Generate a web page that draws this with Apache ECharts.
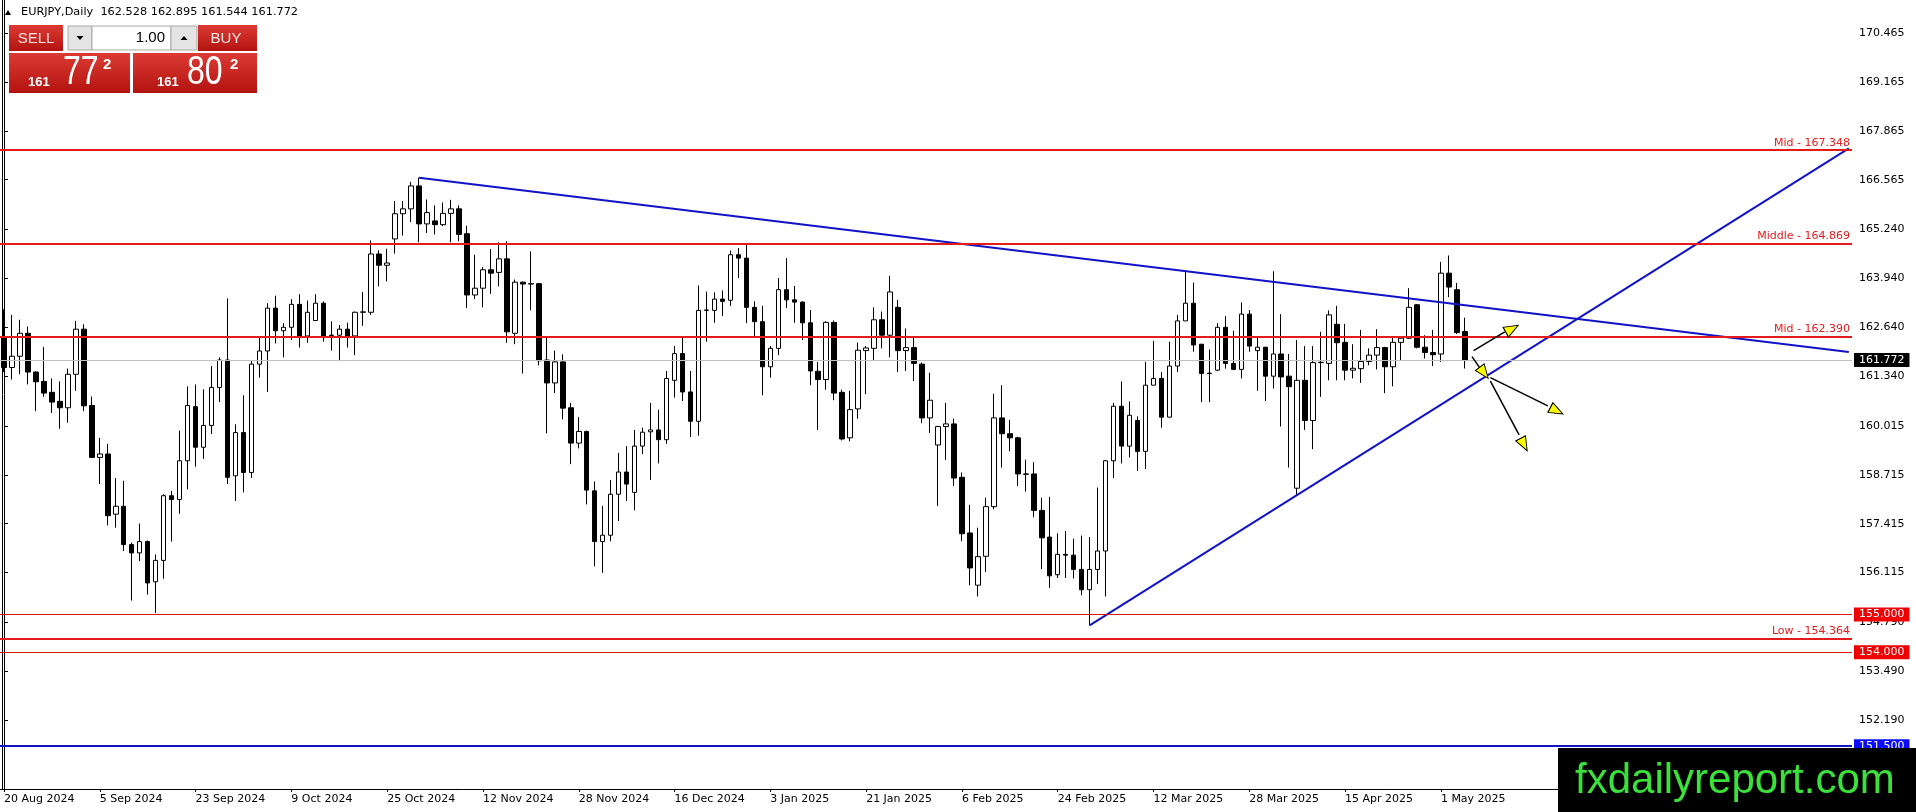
<!DOCTYPE html>
<html>
<head>
<meta charset="utf-8">
<title>EURJPY Daily</title>
<script src="https://cdn.jsdelivr.net/npm/echarts@6.0.0/dist/echarts.min.js"></script>
<style>
  html, body { margin: 0; padding: 0; background: #fff; }
  #chart { width: 1916px; height: 812px; }
</style>
</head>
<body>
<div id="chart"></div>
<script>
// daily bars, 20 Aug 2024 .. 6 May 2025
var open = [
  162.39,161.57,161.87,162.48,161.45,161.20,160.91,160.67,160.50,161.39,
  162.59,160.56,159.18,159.27,157.67,157.88,156.86,156.64,156.94,155.87,
  156.44,158.16,158.06,159.09,160.53,159.45,160.03,161.04,161.77,158.69,
  159.84,158.78,161.66,162.01,163.15,162.55,162.64,163.25,162.41,162.82,
  163.28,162.43,162.43,162.59,162.41,163.04,163.04,164.59,164.29,164.99,
  165.66,165.79,166.40,165.39,165.47,165.37,165.67,165.79,165.13,163.50,
  163.68,164.17,164.10,164.46,162.48,163.84,163.79,163.80,161.77,161.16,
  161.72,160.50,159.56,159.87,158.29,156.94,157.11,158.20,158.79,158.25,
  159.48,159.86,159.91,159.65,161.23,161.94,160.92,160.14,163.09,163.09,
  163.39,163.36,164.57,164.48,163.17,162.79,161.59,162.08,163.64,163.37,
  163.31,162.76,161.47,161.25,162.77,160.91,159.70,160.47,162.02,162.08,
  162.84,162.43,163.17,162.02,162.10,161.66,160.23,159.51,160.00,160.07,
  158.65,157.17,155.78,156.55,157.87,160.23,159.81,159.70,158.74,158.74,
  157.77,157.06,156.06,156.60,156.58,156.20,155.66,156.20,156.69,159.09,
  160.54,159.48,160.16,159.34,161.10,161.28,160.25,161.61,162.81,163.28,
  162.19,161.41,161.50,162.64,161.68,161.52,162.99,162.02,162.11,161.34,
  161.93,161.34,158.36,161.23,160.16,161.70,161.68,162.72,162.24,161.50,
  161.54,161.73,161.90,162.10,161.59,162.24,162.35,163.24,162.11,161.97,
  161.93,164.08,163.64,162.528
];
var high = [
  163.12,162.97,162.84,162.66,161.47,162.12,161.28,161.20,161.54,162.81,
  162.72,160.80,159.70,159.54,158.63,158.56,156.91,157.42,156.97,156.60,
  158.20,158.29,159.89,161.07,161.12,160.99,161.61,161.84,163.41,160.06,
  160.83,161.77,162.36,163.28,163.48,162.75,163.39,163.52,163.35,163.52,
  163.33,162.80,162.70,162.76,163.06,163.58,164.95,164.69,164.73,166.00,
  166.00,166.51,166.62,166.04,165.88,165.96,166.03,165.88,165.34,164.57,
  164.24,164.72,164.90,164.93,163.91,163.86,164.66,163.82,162.37,162.02,
  161.92,160.63,160.25,159.89,158.54,157.89,158.58,159.30,159.48,159.91,
  159.97,160.63,160.45,161.48,162.14,162.37,161.48,163.75,163.59,163.57,
  163.62,164.68,164.75,164.84,163.33,163.21,162.14,163.95,164.48,163.74,
  163.33,163.10,161.72,162.80,162.82,160.98,160.95,162.23,162.14,163.17,
  163.06,164.01,163.37,162.61,162.37,161.70,161.43,160.02,160.63,160.21,
  158.78,157.92,157.31,158.11,160.87,161.10,160.18,159.73,159.12,159.05,
  158.11,158.13,157.16,157.22,157.02,157.10,157.06,158.38,159.11,160.63,
  161.20,160.67,160.27,161.72,162.28,161.45,162.26,162.97,164.13,163.83,
  162.19,162.05,162.75,162.94,162.55,163.30,163.10,162.39,162.12,164.13,
  162.99,161.93,162.30,162.14,162.14,162.52,163.09,163.21,162.73,162.19,
  162.57,162.08,162.59,162.12,162.37,162.41,163.68,163.26,162.43,162.57,
  164.38,164.55,163.82,162.895
];
var low = [
  161.45,161.25,161.39,161.12,160.41,160.79,160.36,159.94,160.10,160.95,
  160.41,159.16,158.47,157.37,157.31,156.69,155.37,156.42,155.53,155.04,
  155.95,156.94,157.68,158.33,158.93,159.14,159.80,160.65,158.47,158.02,
  158.25,158.63,161.30,160.92,162.21,161.84,162.30,162.10,162.23,162.82,
  162.26,162.02,161.74,162.10,161.90,162.68,162.97,163.73,163.86,164.60,
  165.08,165.44,164.90,165.15,165.11,165.33,164.90,164.93,163.15,163.39,
  163.17,163.53,163.73,162.23,162.19,161.41,163.09,161.63,159.82,160.89,
  160.19,159.00,159.42,157.93,156.28,156.11,156.95,157.49,158.02,157.77,
  159.27,158.58,159.02,159.54,160.77,160.68,159.72,159.76,162.26,162.76,
  162.94,163.21,163.95,162.75,162.41,160.83,161.30,161.90,163.15,162.76,
  162.30,161.10,159.91,160.98,160.70,159.63,159.61,160.21,160.86,161.77,
  162.08,161.84,161.45,161.48,161.21,160.09,159.83,157.89,159.11,158.42,
  156.95,155.78,155.48,156.13,157.80,158.91,159.34,158.42,158.27,157.59,
  156.21,155.71,155.97,155.97,155.96,155.51,154.71,155.81,155.48,158.63,
  159.02,159.18,158.82,158.87,161.10,159.97,160.25,161.45,162.81,161.99,
  160.65,160.65,161.48,161.54,161.50,161.28,161.99,160.95,160.68,161.01,
  160.00,158.91,158.16,159.91,159.40,160.79,161.23,161.23,161.23,161.28,
  161.16,161.63,161.52,160.89,161.07,161.75,162.33,162.08,161.81,161.61,
  161.72,163.44,162.46,161.544
];
var close = [
  161.57,161.87,162.48,161.45,161.19,160.89,160.65,160.50,161.39,162.59,
  160.55,159.18,159.27,157.63,157.88,156.86,156.64,156.94,155.84,156.44,
  158.16,158.06,159.09,160.56,159.45,160.03,161.04,161.77,158.65,159.84,
  158.78,161.66,162.01,163.15,162.55,162.64,163.25,162.41,163.04,163.28,
  162.41,162.42,162.59,162.41,163.04,163.05,164.59,164.29,164.35,165.66,
  165.79,166.40,165.39,165.69,165.37,165.67,165.79,165.11,163.50,163.68,
  164.17,164.08,164.46,162.52,163.84,163.79,163.80,161.75,161.16,161.72,
  160.49,159.56,159.87,158.31,156.94,157.11,158.20,158.79,158.47,159.48,
  159.85,159.91,159.65,161.28,161.94,160.92,160.14,163.09,163.10,163.39,
  163.33,164.57,164.48,163.17,162.79,161.59,162.08,163.64,163.37,163.31,
  162.76,161.48,161.25,162.77,160.89,159.67,160.45,162.03,162.09,162.84,
  162.43,163.58,162.02,162.10,161.68,160.23,160.70,160.00,160.07,158.63,
  157.15,156.24,156.54,157.87,160.23,159.81,159.70,158.74,158.73,157.77,
  157.04,156.03,156.60,156.58,156.20,155.66,156.20,156.69,159.09,160.54,
  159.48,160.30,159.34,161.10,161.28,160.25,161.61,162.81,163.28,162.17,
  161.41,161.42,162.64,161.68,161.52,162.99,162.14,162.11,161.34,161.93,
  161.32,161.06,161.23,160.16,161.70,161.71,162.97,162.23,161.50,161.55,
  161.73,161.90,162.10,161.59,162.24,162.35,163.17,162.11,161.97,161.91,
  164.08,163.71,162.50,161.772
];

// bottom labels, one every 12 bars starting at the first bar
var dateTicks = ['20 Aug 2024','5 Sep 2024','23 Sep 2024','9 Oct 2024','25 Oct 2024','12 Nov 2024',
  '28 Nov 2024','16 Dec 2024','3 Jan 2025','21 Jan 2025','6 Feb 2025','24 Feb 2025',
  '12 Mar 2025','28 Mar 2025','15 Apr 2025','1 May 2025'];
var tickStep = 12;
var yTicks = [170.465,169.165,167.865,166.565,165.240,163.940,162.640,161.340,
  160.015,158.715,157.415,156.115,154.790,153.490,152.190];

// drawn objects on the chart
var levelValues = [167.348, 164.869, 162.390, 154.364];
var levelNames = ['Mid', 'Middle', 'Mid', 'Low'];
var roundLevels = [155.000, 154.000];
var blueLevel = 151.500;
var trendDown = [[52, 166.62], [231.1, 161.98]];
var trendUp = [[136, 154.71], [231.1, 167.40]];
var arrowLines = [
  [[184.1, 162.02], [188.0, 162.52]],
  [[183.9, 161.86], [185.0, 161.52]],
  [[186.2, 161.30], [193.4, 160.55]],
  [[186.2, 161.21], [189.8, 159.78]]
];
var arrowHeads = [[188.9, 162.60], [185.4, 161.43], [194.5, 160.42], [190.4, 159.52]];
var arrowTurn = [-61, -143, -117, -152];

var slots = 232;   // chart keeps empty space on the right
var last = open.length - 1;
var lastPrice = close[last];
var FONT = 'DejaVu Sans';

var candles = open.map(function (o, i) { return [o, close[i], low[i], high[i]]; });
var cats = [];
for (var i = 0; i < slots; i++) cats.push(String(i));

function showTick(idx) {
  return idx % tickStep === 0 && idx / tickStep < dateTicks.length;
}

var marks = [];
levelValues.forEach(function (v, k) {
  marks.push({
    yAxis: v,
    lineStyle: { color: '#e41b1b', width: 2, type: 'solid' },
    label: {
      show: true, position: 'insideEndTop', distance: 2,
      formatter: levelNames[k] + ' - ' + v.toFixed(3),
      color: '#e41b1b', fontSize: 11, fontFamily: FONT
    }
  });
});
roundLevels.forEach(function (v) {
  marks.push({
    yAxis: v,
    lineStyle: { color: '#d81818', width: 1, type: 'solid' },
    label: {
      show: true, position: 'end', distance: 2, formatter: v.toFixed(3),
      color: '#fff', backgroundColor: '#f00000', padding: [2, 5, 1, 5],
      fontSize: 11, fontFamily: FONT
    }
  });
});
marks.push({
  yAxis: blueLevel,
  lineStyle: { color: '#1212c8', width: 2, type: 'solid' },
  label: {
    show: true, position: 'end', distance: 2, formatter: blueLevel.toFixed(3),
    color: '#fff', backgroundColor: '#0a0aff', padding: [2, 5, 1, 5],
    fontSize: 11, fontFamily: FONT
  }
});
marks.push({
  yAxis: lastPrice,
  lineStyle: { color: '#c0c0c0', width: 1, type: 'solid' },
  label: {
    show: true, position: 'end', distance: 2, formatter: lastPrice.toFixed(3),
    color: '#fff', backgroundColor: '#000', padding: [2, 5, 1, 5],
    fontSize: 11, fontFamily: FONT
  }
});

var series = [{
  type: 'candlestick',
  xAxisIndex: 0, yAxisIndex: 0,
  data: candles,
  barWidth: 5,
  itemStyle: {
    color: '#fff', color0: '#000',
    borderColor: '#000', borderColor0: '#000', borderWidth: 1
  },
  markLine: { symbol: ['none', 'none'], silent: true, animation: false, data: marks },
  z: 3
}];
[trendDown, trendUp].forEach(function (t) {
  series.push({
    type: 'line', xAxisIndex: 1, yAxisIndex: 0, data: t,
    symbol: 'none', silent: true,
    lineStyle: { color: '#1212c8', width: 2 }, z: 4
  });
});
arrowLines.forEach(function (a) {
  series.push({
    type: 'line', xAxisIndex: 1, yAxisIndex: 0, data: a,
    symbol: 'none', silent: true,
    lineStyle: { color: '#000', width: 1.5 }, z: 5
  });
});
series.push({
  type: 'scatter', xAxisIndex: 1, yAxisIndex: 0,
  data: arrowHeads.map(function (p, k) { return { value: p, symbolRotate: arrowTurn[k] }; }),
  symbol: 'triangle', symbolSize: [11, 14], silent: true,
  itemStyle: { color: '#ffff00', borderColor: '#000', borderWidth: 1, opacity: 1 },
  z: 6
});

var hdr = 'EURJPY,Daily  ' + [open[last], high[last], low[last], close[last]].map(function (v) { return v.toFixed(3); }).join(' ');

function redFill() {
  return new echarts.graphic.LinearGradient(0, 0, 0, 1, [
    { offset: 0, color: '#dc3b35' }, { offset: 1, color: '#b3130f' }
  ]);
}
function bigDigits(x, txt) {
  return { type: 'text', x: x, y: 73, scaleX: 0.8, silent: true,
    style: { x: 0, y: 0, text: txt, fill: '#fff', font: '40px "Liberation Sans"', textVerticalAlign: 'middle' } };
}

var chart = echarts.init(document.getElementById('chart'));
chart.setOption({
  animation: false,
  backgroundColor: '#fff',
  grid: { left: -0.7, right: 64, top: 0, bottom: 23 },
  xAxis: [{
    type: 'category', data: cats, gridIndex: 0,
    axisLine: { show: true, lineStyle: { color: '#000', width: 1 } },
    axisTick: { show: true, alignWithLabel: true, interval: showTick, length: 3, lineStyle: { color: '#000' } },
    axisLabel: {
      interval: showTick, align: 'left', margin: 5,
      formatter: function (v, idx) { return idx % tickStep === 0 ? (dateTicks[idx / tickStep] || '') : ''; },
      color: '#000', fontSize: 11, fontFamily: FONT
    },
    splitLine: { show: false }
  }, {
    type: 'value', gridIndex: 0, min: -0.5, max: slots - 0.5, show: false
  }],
  yAxis: [{
    type: 'value', position: 'right', min: 150.36, max: 171.345, scale: true,
    axisLine: { show: true, lineStyle: { color: '#000', width: 1 } },
    axisTick: { show: true, customValues: yTicks, length: 4, lineStyle: { color: '#000' } },
    axisLabel: {
      customValues: yTicks, margin: 7,
      formatter: function (v) { return v.toFixed(3); },
      color: '#000', fontSize: 11, fontFamily: FONT
    },
    splitLine: { show: false }
  }],
  series: series,
  graphic: [
    { type: 'line', shape: { x1: 2.5, y1: 0, x2: 2.5, y2: 789 }, style: { stroke: '#000', lineWidth: 1 }, silent: true },
    { type: 'polygon', shape: { points: [[5, 15], [11, 15], [8, 10]] }, style: { fill: '#000' }, silent: true },
    { type: 'text', style: { x: 21, y: 12.5, text: hdr, fill: '#000', font: '11.3px "DejaVu Sans"', textVerticalAlign: 'middle' }, silent: true },
    // trade panel
    { type: 'rect', shape: { x: 9, y: 25, width: 54, height: 26 }, style: { fill: redFill() }, silent: true },
    { type: 'text', style: { x: 36, y: 38.5, text: 'SELL', fill: '#fbe4e4', font: '15px "Liberation Sans"', textAlign: 'center', textVerticalAlign: 'middle' }, silent: true },
    { type: 'rect', shape: { x: 68, y: 26, width: 24, height: 24 }, style: { fill: '#e4e4e4', stroke: '#a8a8a8', lineWidth: 1 }, silent: true },
    { type: 'polygon', shape: { points: [[76.5, 36], [83.5, 36], [80, 40]] }, style: { fill: '#000' }, silent: true },
    { type: 'rect', shape: { x: 92, y: 26, width: 79, height: 24 }, style: { fill: '#fff', stroke: '#a8a8a8', lineWidth: 1 }, silent: true },
    { type: 'text', style: { x: 165, y: 38, text: '1.00', fill: '#000', font: '15px "Liberation Sans"', textAlign: 'right', textVerticalAlign: 'middle' }, silent: true },
    { type: 'rect', shape: { x: 171, y: 26, width: 26, height: 24 }, style: { fill: '#e4e4e4', stroke: '#a8a8a8', lineWidth: 1 }, silent: true },
    { type: 'polygon', shape: { points: [[180.5, 40], [187.5, 40], [184, 36]] }, style: { fill: '#000' }, silent: true },
    { type: 'rect', shape: { x: 198, y: 25, width: 59, height: 26 }, style: { fill: redFill() }, silent: true },
    { type: 'text', style: { x: 226, y: 38.5, text: 'BUY', fill: '#fbe4e4', font: '15px "Liberation Sans"', textAlign: 'center', textVerticalAlign: 'middle' }, silent: true },
    { type: 'rect', shape: { x: 9, y: 53, width: 121, height: 40 }, style: { fill: redFill() }, silent: true },
    { type: 'rect', shape: { x: 133, y: 53, width: 124, height: 40 }, style: { fill: redFill() }, silent: true },
    { type: 'text', style: { x: 28, y: 82, text: '161', fill: '#fff', font: 'bold 13px "Liberation Sans"', textVerticalAlign: 'middle' }, silent: true },
    bigDigits(63, '77'),
    { type: 'text', style: { x: 103, y: 65, text: '2', fill: '#fff', font: 'bold 15px "Liberation Sans"', textVerticalAlign: 'middle' }, silent: true },
    { type: 'text', style: { x: 157, y: 82, text: '161', fill: '#fff', font: 'bold 13px "Liberation Sans"', textVerticalAlign: 'middle' }, silent: true },
    bigDigits(187, '80'),
    { type: 'text', style: { x: 230, y: 65, text: '2', fill: '#fff', font: 'bold 15px "Liberation Sans"', textVerticalAlign: 'middle' }, silent: true },
    // site badge
    { type: 'rect', shape: { x: 1558, y: 748, width: 358, height: 64 }, style: { fill: '#000' }, z: 100, silent: true },
    { type: 'text', style: { x: 1575, y: 781, text: 'fxdailyreport.com', fill: '#3be03b', font: '42px "Liberation Sans"', textVerticalAlign: 'middle' }, z: 101, silent: true }
  ]
});
</script>
</body>
</html>
